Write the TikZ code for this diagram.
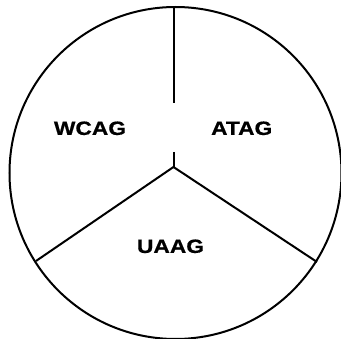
\documentclass[tikz,border=0pt]{standalone}
\usepackage{fontspec}
\setmainfont{Liberation Sans}[BoldFeatures={FakeBold=0.6}]
\usetikzlibrary{positioning}

\begin{document}
\begin{tikzpicture}[x=1pt, y=-1pt]
    \tikzstyle{part} = [font=\fontsize{19.3}{23}\selectfont\bfseries, inner sep=0pt, xscale=1.18, transform shape]
    \tikzstyle{line} = [draw, line width=2pt]
    \useasboundingbox (0,0) rectangle (341,339);

    \path [line] (175.5,173) circle (166pt);

    \coordinate (top) at (173.5,7);
    \coordinate (gapA) at (173.5,103);
    \coordinate (gapB) at (173.5,152);
    \coordinate (hub) at (173.5,167);
    \coordinate (left) at (36,261);
    \coordinate (right) at (317,262);

    \node [part] (wcag) at (90,128.3) {WCAG};
    \node [part] (atag) at (241.7,128.3) {ATAG};
    \node [part] (uaag) at (170.5,246.3) {UAAG};

    \path [line] (top) -- (gapA);
    \path [line] (gapB) -- (hub);
    \path [line] (hub) -- (left);
    \path [line] (hub) -- (right);
\end{tikzpicture}
\end{document}
